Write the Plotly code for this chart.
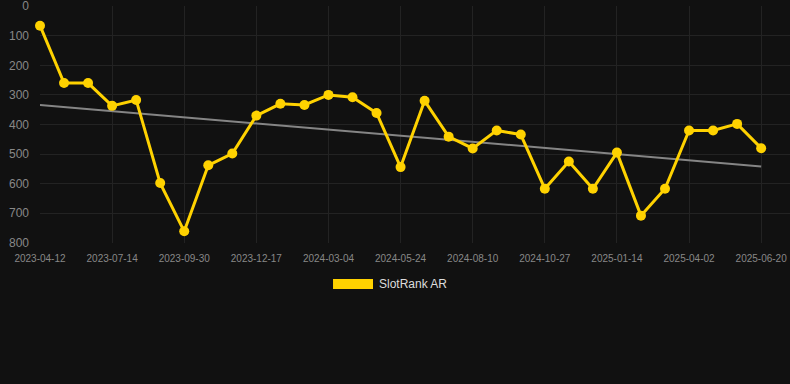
import numpy as np
import plotly.graph_objects as go

dates = [
    "2023-04-12", "2023-05-13", "2023-06-13", "2023-07-14", "2023-08-09",
    "2023-09-04", "2023-09-30", "2023-10-26", "2023-11-21", "2023-12-17",
    "2024-01-12", "2024-02-07", "2024-03-04", "2024-03-31", "2024-04-27",
    "2024-05-24", "2024-06-19", "2024-07-15", "2024-08-10", "2024-09-05",
    "2024-10-01", "2024-10-27", "2024-11-22", "2024-12-19", "2025-01-14",
    "2025-02-09", "2025-03-07", "2025-04-02", "2025-04-28", "2025-05-25",
    "2025-06-20",
]
rank = [
    66, 260, 260, 337, 317, 598, 761, 538, 498, 370,
    330, 334, 300, 308, 361, 544, 320, 441, 481, 420,
    434, 617, 525, 617, 495, 708, 617, 420, 420, 398,
    480,
]
series_name = "SlotRank AR"
y_ticks = [0, 100, 200, 300, 400, 500, 600, 700, 800]
x_tick_labels = dates[::3]

idx = np.arange(len(rank))
slope, intercept = np.polyfit(idx, rank, 1)
trend = slope * idx + intercept

fig = go.Figure()
fig.add_trace(go.Scatter(
    x=dates, y=trend, mode="lines",
    line=dict(color="#858585", width=2),
    showlegend=False, hoverinfo="skip", cliponaxis=False,
))
fig.add_trace(go.Scatter(
    x=dates, y=rank, mode="lines+markers", name=series_name,
    line=dict(color="#FFD200", width=3),
    marker=dict(color="#FFD200", size=10),
    showlegend=False, cliponaxis=False,
))

fig.update_layout(
    width=790, height=384,
    paper_bgcolor="#111111", plot_bgcolor="#111111",
    margin=dict(l=40, r=0, t=6, b=141),
    font=dict(family="Liberation Sans, Arial, sans-serif", color="#888888"),
    xaxis=dict(
        type="category", range=[0, 31.2],
        tickmode="array", tickvals=x_tick_labels, ticktext=x_tick_labels,
        showgrid=True, gridcolor="#232323", gridwidth=1,
        zeroline=False, showline=False,
        tickfont=dict(size=10, color="#888888"),
        ticks="", ticklabelstandoff=8, ticklabeloverflow="allow",
    ),
    yaxis=dict(
        range=[800.5, -0.5], tickmode="array", tickvals=y_ticks,
        showgrid=True, gridcolor="#232323", gridwidth=1,
        zeroline=False, showline=False,
        tickfont=dict(size=12, color="#888888"),
        ticks="", ticklabelstandoff=10, ticklabeloverflow="allow",
    ),
    shapes=[dict(
        type="rect", xref="paper", yref="paper",
        x0=0.3907, x1=0.444, y0=-0.194, y1=-0.152,
        fillcolor="#FFD200", line=dict(width=0),
    )],
    annotations=[dict(
        text=series_name, xref="paper", yref="paper",
        x=0.4493, y=-0.173, xanchor="left", yanchor="middle",
        showarrow=False, font=dict(size=12, color="#dddddd"),
    )],
)

fig.write_html(
    "out.html",
    config={"displayModeBar": False},
    post_script="document.body.style.margin='0';document.body.style.background='#111111';",
)
